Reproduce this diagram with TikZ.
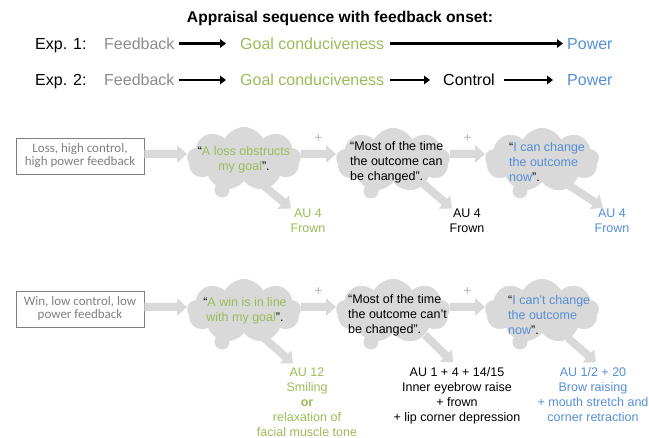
\documentclass[tikz,border=0pt]{standalone}
\usepackage{fontspec}
\setmainfont{Liberation Sans}
\newfontfamily\boxfont{Carlito}
\usetikzlibrary{arrows.meta,shapes.symbols,calc}
\definecolor{fgray}{HTML}{8C8C8C}
\definecolor{fgreen}{HTML}{9BBB59}
\definecolor{fblue}{HTML}{558ED5}
\definecolor{cloudgray}{HTML}{D9D9D9}
\definecolor{boxgray}{HTML}{7F7F7F}
\definecolor{plusgray}{HTML}{B8B8B8}
\begin{document}
\begin{tikzpicture}[x=1pt,y=-1pt,
  big/.style={font=\fontsize{16}{19}\selectfont, inner sep=0pt, anchor=west, text height=11.5pt, text depth=0pt},
  blk/.style={draw=black, line width=2.8pt, -{Triangle[length=6pt,width=8.5pt]}},
  cloudy/.style={cloud, cloud puffs=9, cloud puff arc=125, cloud ignores aspect, fill=cloudgray, minimum width=114pt, minimum height=64pt, inner sep=0pt},
  fbox/.style={draw=boxgray, line width=0.8pt, minimum width=128pt, minimum height=36pt, font=\boxfont\fontsize{13}{13}\selectfont, text=boxgray, align=center, inner sep=0pt},
  fatarrow/.style={draw=cloudgray, line width=8pt, -{Triangle[length=10pt,width=17pt]}},
  ctext/.style={font=\fontsize{12.5}{15}\selectfont, inner sep=0pt},
  au/.style={font=\fontsize{12.5}{15}\selectfont, inner sep=0pt, align=center, anchor=north},
  plus/.style={font=\fontsize{14}{14}\selectfont, text=plusgray, inner sep=0pt}
]
\useasboundingbox (0,0) rectangle (649,438);

% title
\node[font=\bfseries\fontsize{15.6}{18}\selectfont, inner sep=0pt] (title) at (340,18) {Appraisal sequence with feedback onset:};

% Exp 1
\node[big] (e1) at (35,43.5) {Exp. 1:};
\node[big, text=fgray] (fb1) at (104,43.5) {Feedback};
\node[big, text=fgreen] (gc1) at (240,43.5) {Goal conduciveness};
\node[big, text=fblue] (pw1) at (567,43.5) {Power};
\draw[blk, shorten <=4pt, shorten >=14pt] (fb1.east) -- (gc1.west);
\draw[blk, shorten <=6pt, shorten >=4pt] (gc1.east) -- (pw1.west);

% Exp 2
\node[big] (e2) at (35,80) {Exp. 2:};
\node[big, text=fgray] (fb2) at (104,80) {Feedback};
\node[big, text=fgreen] (gc2) at (240,80) {Goal conduciveness};
\node[big] (ct2) at (443,80) {Control};
\node[big, text=fblue] (pw2) at (567,80) {Power};
\draw[blk, shorten <=4pt, shorten >=14pt] (fb2.east) -- (gc2.west);
\draw[blk, shorten <=6pt, shorten >=13pt] (gc2.east) -- (ct2.west);
\draw[blk, shorten <=9pt, shorten >=14pt] (ct2.east) -- (pw2.west);

% clouds row A
\node[cloudy] (cA1) at (244,159) {};
\node[cloudy] (cA2) at (393,160) {};
\node[cloudy] (cA3) at (542,160) {};
% clouds row B
\node[cloudy] (cB1) at (244,311) {};
\node[cloudy] (cB2) at (393,311) {};
\node[cloudy] (cB3) at (542,311) {};
\foreach \c in {cA1,cA2,cA3,cB1,cB2,cB3}
  \fill[cloudgray] ($(\c.center)+(-22,31)$) circle (7.5);

% boxes
\node[fbox] (bA) at (80,156) {Loss, high control,\\high power feedback};
\node[fbox] (bB) at (80,309) {Win, low control, low\\power feedback};

% AU texts
\node[au, text=fgreen] (auA1) at (308,208.5) {AU 4\\Frown};
\node[au] (auA2) at (467,208.5) {AU 4\\Frown};
\node[au, text=fblue] (auA3) at (612,208.5) {AU 4\\Frown};
\node[au, text=fgreen] (auB1) at (307,367.5) {AU 12\\Smiling\\\textbf{or}\\relaxation of\\facial muscle tone};
\node[au] (auB2) at (457,367.5) {AU 1 + 4 + 14/15\\Inner eyebrow raise\\+ frown\\+ lip corner depression};
\node[au, text=fblue] (auB3) at (593,367.5) {AU 1/2 + 20\\Brow raising\\+ mouth stretch and\\corner retraction};

% horizontal fat arrows
\draw[fatarrow] ([yshift=2pt]bA.east) -- ([yshift=5pt]cA1.west);
\draw[fatarrow] ([yshift=5pt]cA1.east) -- ([yshift=6pt]cA2.west) node[midway, above=7pt, plus] (pA1) {+};
\draw[fatarrow] ([yshift=6pt]cA2.east) -- ([yshift=6pt]cA3.west) node[midway, above=7pt, plus] (pA2) {+};
\draw[fatarrow] ([yshift=2pt]bB.east) -- ([yshift=4pt]cB1.west);
\draw[fatarrow] ([yshift=4pt]cB1.east) -- ([yshift=4pt]cB2.west) node[midway, above=7pt, plus] (pB1) {+};
\draw[fatarrow] ([yshift=4pt]cB2.east) -- ([yshift=4pt]cB3.west) node[midway, above=7pt, plus] (pB2) {+};

% diagonal fat arrows
\draw[fatarrow] ($(cA1.center)+(19,26)$) -- ($(auA1.north)+(-17,0)$);
\draw[fatarrow] ($(cA2.center)+(27,21)$) -- ($(auA2.north)+(-15,0)$);
\draw[fatarrow] ($(cA3.center)+(25,24)$) -- ($(auA3.north)+(-9,-1)$);
\draw[fatarrow] ($(cB1.center)+(19,26)$) -- ($(auB1.north)+(-14,-4)$);
\draw[fatarrow] ($(cB2.center)+(32,24)$) -- ($(auB2.north)+(-4,-5)$);
\draw[fatarrow] ($(cB3.center)+(26,27)$) -- ($(auB3.north)+(3,-5)$);

% cloud texts
\node[ctext, align=center, text=fgreen] (tA1) at ($(cA1.center)+(0,0.5)$) {\textcolor{black}{“}A loss obstructs\\my goal\textcolor{black}{”.}};
\node[ctext, align=left, anchor=west] (tA2) at ($(cA2.center)+(-43,2)$) {“Most of the time\\the outcome can\\be changed”.};
\node[ctext, align=left, anchor=west, text=fblue] (tA3) at ($(cA3.center)+(-33,2)$) {\textcolor{black}{“}I can change\\the outcome\\now\textcolor{black}{”.}};
\node[ctext, align=center, text=fgreen] (tB1) at ($(cB1.center)+(1,-0.5)$) {\textcolor{black}{“}A win is in line\\with my goal\textcolor{black}{”.}};
\node[ctext, align=left, anchor=west] (tB2) at ($(cB2.center)+(-45,4)$) {“Most of the time\\the outcome can’t\\be changed”.};
\node[ctext, align=left, anchor=west, text=fblue] (tB3) at ($(cB3.center)+(-34,4)$) {\textcolor{black}{“}I can’t change\\the outcome\\now\textcolor{black}{”.}};
\end{tikzpicture}
\end{document}
